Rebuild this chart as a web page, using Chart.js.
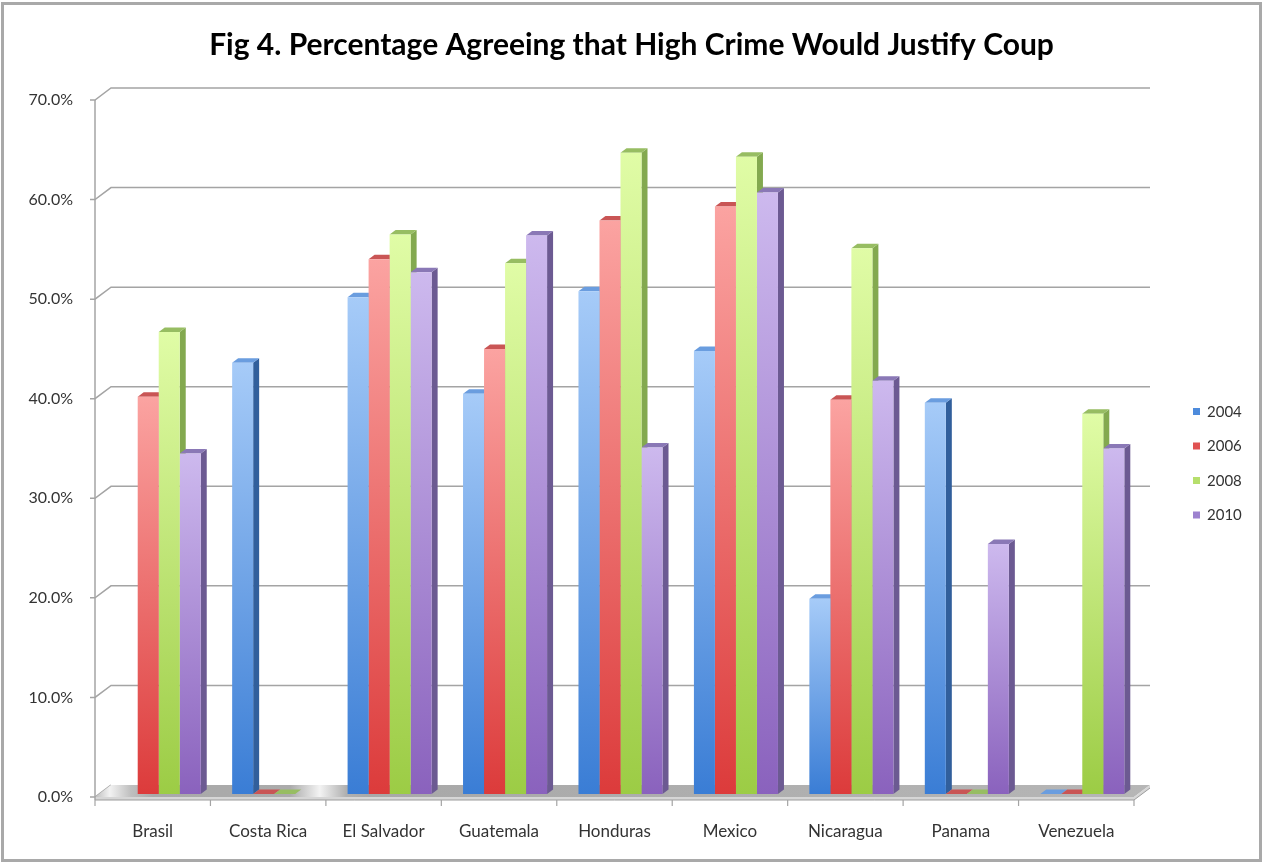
<!DOCTYPE html>
<html>
<head>
<meta charset="utf-8">
<title>Fig 4</title>
<script src="https://cdn.jsdelivr.net/npm/chart.js@4.4.1/dist/chart.umd.min.js"></script>
<style>
  html, body { margin: 0; padding: 0; background: #fff; }
  #c { display: block; }
</style>
</head>
<body>
<canvas id="c" width="1263" height="863"></canvas>
<script>
// ---------- data ----------
const countries = ['Brasil', 'Costa Rica', 'El Salvador', 'Guatemala', 'Honduras', 'Mexico', 'Nicaragua', 'Panama', 'Venezuela'];
const years = ['2004', '2006', '2008', '2010'];
const pct2004 = [null, 43.3, 49.9, 40.2, 50.5, 44.5, 19.6, 39.3, 0];
const pct2006 = [39.9, 0, 53.7, 44.7, 57.6, 59.0, 39.6, 0, 0];
const pct2008 = [46.4, 0, 56.2, 53.3, 64.4, 64.0, 54.8, 0, 38.2];
const pct2010 = [34.2, null, 52.4, 56.1, 34.8, 60.4, 41.5, 25.1, 34.7];
const yMin = 0, yMax = 70, yStep = 10;

// fake-3D palette: front gradient (light top -> dark bottom), side, top, legend key
const palette = [
  { light: '#a6cbf8', dark: '#3a7dd5', side: '#315f9c', top: '#6a9ddf', key: '#4d8bdc' },
  { light: '#fba3a1', dark: '#dc3b3b', side: '#a83535', top: '#c95555', key: '#e05252' },
  { light: '#e0fca6', dark: '#9ccc45', side: '#83a94f', top: '#97bd62', key: '#b6df6c' },
  { light: '#cdb9ee', dark: '#8a62bd', side: '#6c5a92', top: '#8a78b6', key: '#9d82cf' }
];

// ---------- geometry of the pseudo 3D frame ----------
const DX = 16, DY = 12;            // depth offset of back wall
const SHIFT_X = 6, SHIFT_Y = -3;   // bars sit a little behind the front plane
const SIDE_X = 6, SIDE_Y = 4.5;    // bar depth
const FONT = 'Lato, "Open Sans", sans-serif';

function barGradient(c) {
  const p = palette[c.datasetIndex];
  const chart = c.chart;
  if (!chart.chartArea || c.raw == null) return p.dark;
  const ys = chart.scales.y;
  const top = ys.getPixelForValue(c.raw);
  const base = ys.getPixelForValue(0);
  if (base - top < 1) return p.dark;
  const g = chart.ctx.createLinearGradient(0, top, 0, base);
  g.addColorStop(0, p.light);
  g.addColorStop(1, p.dark);
  return g;
}

function poly(ctx, pts, fill) {
  ctx.fillStyle = fill;
  ctx.beginPath();
  ctx.moveTo(pts[0][0], pts[0][1]);
  for (let k = 1; k < pts.length; k++) ctx.lineTo(pts[k][0], pts[k][1]);
  ctx.closePath();
  ctx.fill();
}

// side and top faces of every bar, painted left to right behind the front faces
function drawBarDepth(chart) {
  const ctx = chart.ctx;
  ctx.save();
  ctx.translate(SHIFT_X, SHIFT_Y);
  for (let i = 0; i < countries.length; i++) {
    chart.data.datasets.forEach((ds, d) => {
      const v = ds.data[i];
      if (v == null) return;
      const el = chart.getDatasetMeta(d).data[i];
      const p = palette[d];
      const { x, y, base, width } = el.getProps(['x', 'y', 'base', 'width'], true);
      const x0 = x - width / 2, x1 = x + width / 2;
      if (v === 0) {
        // empty slot: flat slab lying on the floor
        poly(ctx, [[x0, base], [x1, base], [x1 + SIDE_X, base - SIDE_Y], [x0 + SIDE_X, base - SIDE_Y]], p.top);
        return;
      }
      poly(ctx, [[x1, y], [x1 + SIDE_X, y - SIDE_Y], [x1 + SIDE_X, base - SIDE_Y], [x1, base]], p.side);
      poly(ctx, [[x0, y], [x1, y], [x1 + SIDE_X, y - SIDE_Y], [x0 + SIDE_X, y - SIDE_Y]], p.top);
    });
  }
  ctx.restore();
}

const frame3d = {
  id: 'frame3d',
  beforeDatasetsDraw(chart) {
    const { ctx, chartArea: a, scales } = chart;
    const ys = scales.y, xs = scales.x;
    ctx.save();
    // back wall gridlines with the little diagonal lip from the front axis
    ctx.strokeStyle = '#a4a4a4';
    ctx.lineWidth = 1.5;
    for (let v = yMin; v <= yMax; v += yStep) {
      const y = ys.getPixelForValue(v);
      ctx.beginPath();
      ctx.moveTo(a.left - 5, y);
      ctx.lineTo(a.left, y);
      ctx.lineTo(a.left + DX, y - DY);
      if (v > 0) ctx.lineTo(a.right + DX, y - DY);
      ctx.stroke();
    }
    // floor
    const fy = ys.getPixelForValue(0);
    const fg = ctx.createLinearGradient(a.left, 0, a.right + DX, 0);
    fg.addColorStop(0, '#bdbdbd');
    fg.addColorStop(0.014, '#f2f2f2');
    fg.addColorStop(0.034, '#bfbfbf');
    fg.addColorStop(0.055, '#a9a9a9');
    fg.addColorStop(0.185, '#ababab');
    fg.addColorStop(0.213, '#f3f3f3');
    fg.addColorStop(0.238, '#b0b0b0');
    fg.addColorStop(0.26, '#a8a8a8');
    fg.addColorStop(1, '#b6b6b6');
    poly(ctx, [[a.left, fy], [a.right, fy], [a.right + DX, fy - DY], [a.left + DX, fy - DY]], fg);
    // floor thickness
    poly(ctx, [[a.left, fy], [a.right, fy], [a.right + DX, fy - DY], [a.right + DX, fy - DY + 3],
               [a.right, fy + 3], [a.left, fy + 3]], '#d6d6d6');
    ctx.strokeStyle = '#9c9c9c';
    ctx.lineWidth = 1;
    ctx.beginPath();
    ctx.moveTo(a.left, fy + 3);
    ctx.lineTo(a.right, fy + 3);
    ctx.lineTo(a.right + DX, fy - DY + 3);
    ctx.stroke();
    // front value axis
    ctx.strokeStyle = '#a4a4a4';
    ctx.lineWidth = 1.5;
    ctx.beginPath();
    ctx.moveTo(a.left, ys.getPixelForValue(yMax));
    ctx.lineTo(a.left, fy + 3);
    ctx.stroke();
    // category separators under the floor
    ctx.lineWidth = 1.2;
    const step = xs.getPixelForValue(1) - xs.getPixelForValue(0);
    for (let i = 0; i <= countries.length; i++) {
      const x = xs.getPixelForValue(0) - step / 2 + i * step;
      ctx.beginPath();
      ctx.moveTo(x, fy + 3);
      ctx.lineTo(x, fy + 9);
      ctx.stroke();
    }
    ctx.restore();
    drawBarDepth(chart);
  },
  beforeDatasetDraw(chart) {
    chart.ctx.save();
    chart.ctx.translate(SHIFT_X, SHIFT_Y);
  },
  afterDatasetDraw(chart) {
    chart.ctx.restore();
  },
  afterDraw(chart) {
    const ctx = chart.ctx;
    ctx.save();
    // legend
    ctx.font = '15px ' + FONT;
    ctx.textBaseline = 'middle';
    ctx.textAlign = 'left';
    const ly = [412, 446.5, 481, 515.5];
    years.forEach((yr, i) => {
      ctx.fillStyle = palette[i].key;
      ctx.fillRect(1193, ly[i] - 4, 7, 7);
      ctx.fillStyle = '#333';
      ctx.fillText(yr, 1207, ly[i]);
    });
    // outer frame
    ctx.strokeStyle = '#a9a9a9';
    ctx.lineWidth = 3;
    ctx.strokeRect(2.5, 3.5, 1258, 857);
    ctx.restore();
  }
};

const seriesData = [pct2004, pct2006, pct2008, pct2010];

new Chart(document.getElementById('c'), {
  type: 'bar',
  data: {
    labels: countries,
    datasets: seriesData.map((d, i) => ({
      label: years[i],
      data: d,
      clip: false,
      backgroundColor: barGradient,
      borderWidth: 0,
      categoryPercentage: 0.728,
      barPercentage: 1
    }))
  },
  options: {
    responsive: false,
    animation: false,
    devicePixelRatio: 1,
    layout: { padding: 0 },
    plugins: {
      legend: { display: false },
      tooltip: { enabled: false },
      title: {
        display: true,
        text: 'Fig 4. Percentage Agreeing that High Crime Would Justify Coup',
        color: '#000',
        font: { family: FONT, size: 30, weight: 'bold' },
        padding: { top: 27, bottom: 37 }
      }
    },
    scales: {
      x: {
        grid: { display: false, drawTicks: false },
        border: { display: false },
        ticks: { color: '#333', font: { family: FONT, size: 17 }, padding: 24, maxRotation: 0 },
        afterFit(s) { s.height = 66; }
      },
      y: {
        min: yMin,
        max: yMax,
        grid: { display: false, drawTicks: false },
        border: { display: false },
        ticks: {
          stepSize: yStep,
          color: '#333',
          font: { family: FONT, size: 16 },
          padding: 22,
          callback: v => v.toFixed(1) + '%'
        },
        afterFit(s) { s.width = 95; }
      },
      // empty right-hand strip that keeps room for the legend
      yRight: {
        position: 'right',
        min: yMin,
        max: yMax,
        grid: { display: false, drawTicks: false },
        border: { display: false },
        ticks: { display: false },
        afterFit(s) { s.width = 129; }
      }
    }
  },
  plugins: [frame3d]
});
</script>
</body>
</html>
